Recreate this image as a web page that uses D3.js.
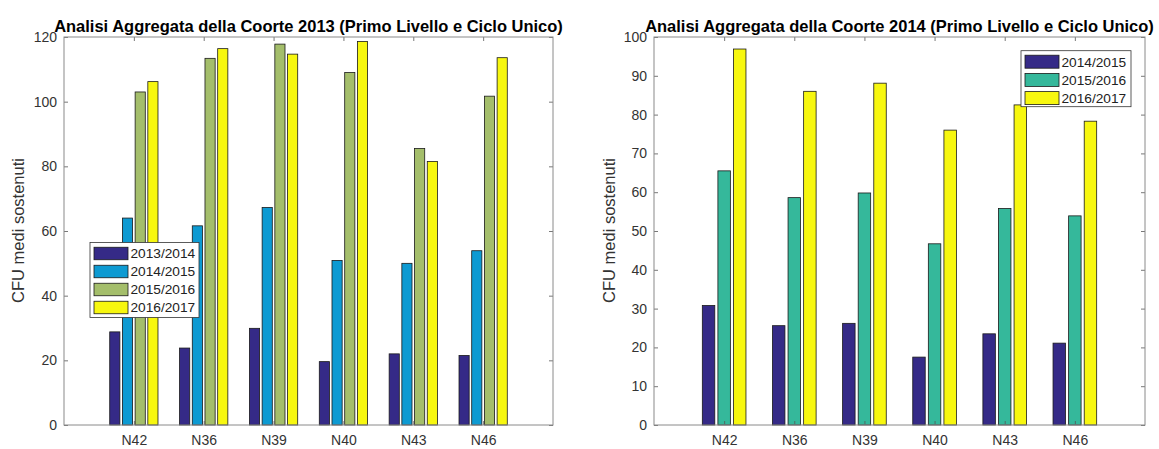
<!DOCTYPE html>
<html>
<head>
<meta charset="utf-8">
<script src="https://cdn.jsdelivr.net/npm/d3@7"></script>
<style>
  html, body { margin: 0; padding: 0; background: #fff; }
  svg { display: block; font-family: "Liberation Sans", Arial, Helvetica, sans-serif; }
</style>
</head>
<body>
<svg id="chart" width="1159" height="449"></svg>
<script>
// ---------- DATA ----------
const categories = ["N42", "N36", "N39", "N40", "N43", "N46"];

const title2013 = "Analisi Aggregata della Coorte 2013 (Primo Livello e Ciclo Unico)";
const years2013 = ["2013/2014", "2014/2015", "2015/2016", "2016/2017"];
const c2013_y1314 = [28.8, 23.8, 29.9, 19.6, 22.0, 21.5];
const c2013_y1415 = [64.0, 61.6, 67.3, 50.9, 50.0, 53.9];
const c2013_y1516 = [103.0, 113.4, 117.8, 109.0, 85.5, 101.7];
const c2013_y1617 = [106.2, 116.4, 114.7, 118.6, 81.5, 113.6];
const yTicks2013 = [0, 20, 40, 60, 80, 100, 120];

const title2014 = "Analisi Aggregata della Coorte 2014 (Primo Livello e Ciclo Unico)";
const years2014 = ["2014/2015", "2015/2016", "2016/2017"];
const c2014_y1415 = [30.8, 25.6, 26.2, 17.5, 23.5, 21.1];
const c2014_y1516 = [65.5, 58.6, 59.8, 46.7, 55.8, 53.9];
const c2014_y1617 = [96.9, 86.0, 88.1, 76.0, 82.5, 78.3];
const yTicks2014 = [0, 10, 20, 30, 40, 50, 60, 70, 80, 90, 100];

const yLabel = "CFU medi sostenuti";

// ---------- STYLE ----------
const colors2013 = ["#352a87", "#0d9ad2", "#a4be6b", "#f7f70f"];
const colors2014 = ["#352a87", "#35b89b", "#f7f70f"];

const svg = d3.select("#chart");

function drawPanel(cfg) {
  const { left, right, top, bottom, yMax, yTicks, series, names, colors, title, legend, yLabelX } = cfg;
  const g = svg.append("g");
  const x = d3.scaleLinear().domain([0, categories.length + 1]).range([left, right]);
  const y = d3.scaleLinear().domain([0, yMax]).range([bottom, top]);

  const n = series.length;
  const groupWidth = Math.min(0.8, n / (n + 1.5));
  const slot = groupWidth / n;
  const barW = slot * 0.8;

  // bars
  series.forEach((vals, si) => {
    const off = (si - (n - 1) / 2) * slot;
    g.append("g").selectAll("rect").data(vals).join("rect")
      .attr("x", (d, i) => x(i + 1 + off - barW / 2))
      .attr("width", x(barW) - x(0))
      .attr("y", d => y(d))
      .attr("height", d => y(0) - y(d))
      .attr("fill", colors[si])
      .attr("stroke", "#1a1a1a")
      .attr("stroke-width", 0.8);
  });

  // axes (ticks inward, box on)
  const tickCol = "#8a8a8a";
  const yl = g.append("g").attr("transform", `translate(${left},0)`)
    .call(d3.axisLeft(y).tickValues(yTicks).tickSize(-4).tickPadding(7).tickFormat(d3.format("d")));
  const yr = g.append("g").attr("transform", `translate(${right},0)`)
    .call(d3.axisRight(y).tickValues(yTicks).tickSize(-4).tickFormat(""));
  const xb = g.append("g").attr("transform", `translate(0,${bottom})`)
    .call(d3.axisBottom(x).tickValues(d3.range(1, categories.length + 1)).tickSize(-4).tickPadding(10.3)
      .tickFormat(d => categories[d - 1]));
  const xt = g.append("g").attr("transform", `translate(0,${top})`)
    .call(d3.axisTop(x).tickValues(d3.range(1, categories.length + 1)).tickSize(-4).tickFormat(""));
  [yl, yr, xb, xt].forEach(a => {
    a.select(".domain").remove();
    a.selectAll(".tick line").attr("stroke", "#555").attr("stroke-width", 0.8);
    a.selectAll(".tick text").attr("fill", "#333").style("font-size", "14px")
      .style("font-family", '"Liberation Sans", Arial, sans-serif');
  });

  // box
  g.append("rect").attr("x", left).attr("y", top)
    .attr("width", right - left).attr("height", bottom - top)
    .attr("fill", "none").attr("stroke", tickCol).attr("stroke-width", 1);

  // title
  const t = g.append("text").attr("x", (left + right) / 2).attr("y", 31.5)
    .attr("text-anchor", "middle").attr("font-weight", "bold")
    .style("font-size", "15px").attr("fill", "#000").text(title);
  const w = t.node().getComputedTextLength();
  t.style("font-size", (15 * 509 / w) + "px");

  // y label
  g.append("text")
    .attr("transform", `translate(${yLabelX},${(top + bottom) / 2 - 0.5}) rotate(-90)`)
    .attr("text-anchor", "middle").attr("dy", "0.35em")
    .style("font-size", "16.5px").attr("fill", "#333").text(yLabel);

  // legend
  const L = legend;
  const lg = g.append("g");
  lg.append("rect").attr("x", L.x).attr("y", L.y).attr("width", L.w).attr("height", L.h)
    .attr("fill", "#fff").attr("stroke", "#333").attr("stroke-width", 0.8);
  names.forEach((nm, i) => {
    const cy = L.row0 + i * L.step;
    lg.append("rect").attr("x", L.x + 4).attr("y", cy - L.sh / 2)
      .attr("width", 34).attr("height", L.sh)
      .attr("fill", colors[i]).attr("stroke", "#1a1a1a").attr("stroke-width", 0.8);
    lg.append("text").attr("x", L.x + 40.5).attr("y", cy).attr("dy", "0.36em")
      .style("font-size", "13.7px").attr("fill", "#222").text(nm);
  });
}

drawPanel({
  left: 64, right: 553, top: 37, bottom: 425, yMax: 120, yTicks: yTicks2013,
  series: [c2013_y1314, c2013_y1415, c2013_y1516, c2013_y1617],
  names: years2013, colors: colors2013, title: title2013, yLabelX: 18.5,
  legend: { x: 90, y: 242.5, w: 109, h: 75, row0: 253.5, step: 18, sh: 12.5 }
});

drawPanel({
  left: 654, right: 1145, top: 37, bottom: 425, yMax: 100, yTicks: yTicks2014,
  series: [c2014_y1415, c2014_y1516, c2014_y1617],
  names: years2014, colors: colors2014, title: title2014, yLabelX: 609,
  legend: { x: 1021, y: 50.7, w: 110, h: 56, row0: 61.7, step: 18.2, sh: 13 }
});
</script>
</body>
</html>
